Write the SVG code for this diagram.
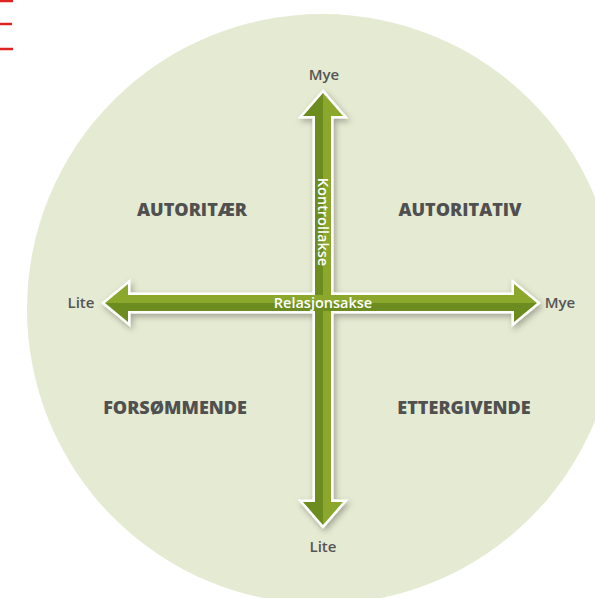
<svg xmlns="http://www.w3.org/2000/svg" width="595" height="598" viewBox="0 0 595 598">
<defs>
<style>
.q{font-family:"Open Sans","Liberation Sans",sans-serif;font-weight:800;font-size:18px;fill:#505050;text-anchor:middle}
.s{font-family:"Open Sans","Liberation Sans",sans-serif;font-weight:600;font-size:15px;fill:#555;text-anchor:middle}
.w{font-family:"Open Sans","Liberation Sans",sans-serif;font-weight:600;font-size:14.5px;fill:#fff;text-anchor:middle}
.lt{fill:#8ba72c}
.dk{fill:#6c8c1f}
.red{stroke:#e02222;stroke-width:2.5}
</style>
<filter id="sh" x="-20%" y="-20%" width="140%" height="140%">
<feDropShadow dx="2" dy="3" stdDeviation="3" flood-color="#000" flood-opacity="0.3"/>
</filter>
</defs>
<g id="marks">
<line class="red" x1="0" y1="1" x2="13" y2="1"/>
<line class="red" x1="0" y1="24" x2="12" y2="24"/>
<line class="red" x1="0" y1="49" x2="13" y2="49"/>
</g>
<circle id="bg" cx="322" cy="309" r="295" fill="#e5ead2"/>
<g id="connectors">
<g filter="url(#sh)" fill="#fff" stroke="#fff" stroke-width="5" stroke-linejoin="miter">
<polygon points="105,303 128,284 128,295 514,295 514,284 537,303 514,322 514,311 128,311 128,322"/>
<polygon points="323,93 343,116 331,116 331,502 343,502 323,525 303,502 315,502 315,116 303,116"/>
</g>
<polygon class="dk" points="323,93 323,525 303,502 315,502 315,116 303,116"/>
<polygon class="lt" points="323,93 343,116 331,116 331,502 343,502 323,525"/>
<polygon class="lt" points="105,303 128,284 128,295 514,295 514,284 537,303"/>
<polygon class="dk" points="105,303 537,303 514,322 514,311 128,311 128,322"/>
</g>
<g id="axis-labels">
<text class="w" x="323" y="308">Relasjonsakse</text>
<text class="w" x="318" y="222" transform="rotate(90 318 222)">Kontrollakse</text>
<text class="s" x="324" y="80">Mye</text>
<text class="s" x="323" y="552">Lite</text>
<text class="s" x="81" y="308">Lite</text>
<text class="s" x="560" y="308">Mye</text>
</g>
<g id="q1"><text class="q" x="192" y="216">AUTORITÆR</text></g>
<g id="q2"><text class="q" x="460" y="216">AUTORITATIV</text></g>
<g id="q3"><text class="q" x="175" y="414">FORSØMMENDE</text></g>
<g id="q4"><text class="q" x="464" y="414">ETTERGIVENDE</text></g>
</svg>
